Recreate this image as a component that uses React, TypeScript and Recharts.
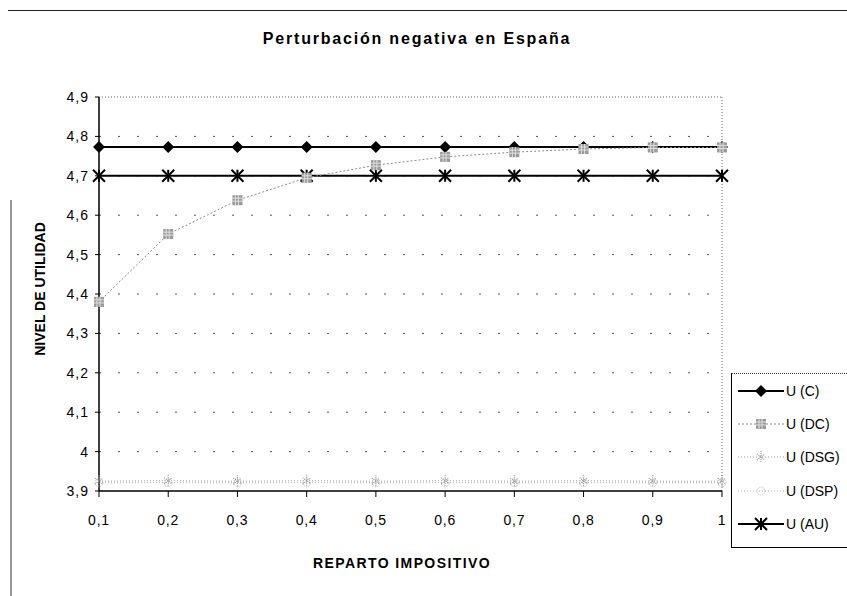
import React from 'react';
import { LineChart, Line, XAxis, YAxis, CartesianGrid, ReferenceLine, Legend } from 'recharts';

const reparto = [0.1, 0.2, 0.3, 0.4, 0.5, 0.6, 0.7, 0.8, 0.9, 1];
const uC = [4.773, 4.773, 4.773, 4.773, 4.773, 4.773, 4.773, 4.773, 4.773, 4.773];
const uDC = [4.38, 4.552, 4.638, 4.695, 4.727, 4.748, 4.76, 4.768, 4.772, 4.772];
const uDSG = [3.925, 3.926, 3.925, 3.926, 3.925, 3.926, 3.925, 3.926, 3.925, 3.925];
const uDSP = [3.921, 3.921, 3.921, 3.921, 3.921, 3.921, 3.921, 3.921, 3.921, 3.921];
const uAU = [4.7, 4.7, 4.7, 4.7, 4.7, 4.7, 4.7, 4.7, 4.7, 4.7];
const yTicks = [3.9, 4, 4.1, 4.2, 4.3, 4.4, 4.5, 4.6, 4.7, 4.8, 4.9];
const seriesNames = ['U (C)', 'U (DC)', 'U (DSG)', 'U (DSP)', 'U (AU)'];

const data = reparto.map((x, i) => ({ x, c: uC[i], dc: uDC[i], dsg: uDSG[i], dsp: uDSP[i], au: uAU[i] }));

const FONT = 'Arial, "Liberation Sans", Helvetica, sans-serif';
const fmt = (v: number) => String(Math.round(v * 10) / 10).replace('.', ',');

const Diamond = (p: any) => {
  const { cx, cy } = p;
  if (cx == null || cy == null) return null;
  return <path key={p.key} d={`M${cx},${cy - 6}L${cx + 6},${cy}L${cx},${cy + 6}L${cx - 6},${cy}Z`} fill="#000" />;
};
const Asterisk = (p: any) => {
  const { cx, cy } = p;
  if (cx == null || cy == null) return null;
  const r = 6;
  return (
    <g key={p.key} stroke="#000" strokeWidth={2}>
      <line x1={cx - r} y1={cy - r} x2={cx + r} y2={cy + r} />
      <line x1={cx - r} y1={cy + r} x2={cx + r} y2={cy - r} />
      <line x1={cx} y1={cy - r} x2={cx} y2={cy + r} />
    </g>
  );
};
const HatchSquare = (p: any) => {
  const { cx, cy } = p;
  if (cx == null || cy == null) return null;
  return (
    <g key={p.key}>
      <rect x={cx - 5} y={cy - 5} width={10} height={10} fill="#9a9a9a" />
      <path d={`M${cx - 5},${cy - 2}H${cx + 5}M${cx - 5},${cy + 1}H${cx + 5}M${cx - 2},${cy - 5}V${cy + 5}M${cx + 1},${cy - 5}V${cy + 5}`} stroke="#e0e0e0" strokeWidth={1} />
    </g>
  );
};
const GrayStar = (p: any) => {
  const { cx, cy } = p;
  if (cx == null || cy == null) return null;
  return (
    <g key={p.key} stroke="#9a9a9a" strokeWidth={1.2} strokeDasharray="1 1">
      <line x1={cx} y1={cy - 6} x2={cx} y2={cy + 6} />
      <line x1={cx - 4} y1={cy - 3} x2={cx + 4} y2={cy + 3} />
      <line x1={cx - 4} y1={cy + 3} x2={cx + 4} y2={cy - 3} />
    </g>
  );
};
const LightMark = (p: any) => {
  const { cx, cy } = p;
  if (cx == null || cy == null) return null;
  return (
    <g key={p.key} stroke="#b8b8b8" strokeWidth={1} strokeDasharray="1 1" fill="none">
      <circle cx={cx} cy={cy} r={4} />
    </g>
  );
};

const legendDefs = [
  { name: seriesNames[0], stroke: '#000', width: 2, dash: undefined, Mark: Diamond },
  { name: seriesNames[1], stroke: '#8a8a8a', width: 1, dash: '2 2', Mark: HatchSquare },
  { name: seriesNames[2], stroke: '#9a9a9a', width: 1, dash: '1 2', Mark: GrayStar },
  { name: seriesNames[3], stroke: '#b0b0b0', width: 1, dash: '1 2', Mark: LightMark },
  { name: seriesNames[4], stroke: '#000', width: 2, dash: undefined, Mark: Asterisk },
];

const LegendBox = () => (
  <div style={{ width: 118, height: 175, borderLeft: '1.5px solid #000', borderTop: '1px dotted #333', borderBottom: '1.5px solid #000', boxSizing: 'border-box', position: 'relative', background: '#fff' }}>
    {legendDefs.map((d, i) => (
      <div key={d.name} style={{ position: 'absolute', left: 6, top: 6 + i * 33.2, height: 22, display: 'flex', alignItems: 'center' }}>
        <svg width={46} height={22}>
          <line x1={0} y1={11} x2={46} y2={11} stroke={d.stroke} strokeWidth={d.width} strokeDasharray={d.dash} />
          <d.Mark cx={23} cy={11} />
        </svg>
        <span style={{ fontFamily: FONT, fontSize: 14, color: '#000', marginLeft: 2, whiteSpace: 'nowrap' }}>{d.name}</span>
      </div>
    ))}
  </div>
);

export default function App() {
  return (
    <div style={{ position: 'absolute', left: 0, top: 0, width: 847, height: 596, background: '#fff', overflow: 'hidden', fontFamily: FONT }}>
      <div style={{ position: 'absolute', left: 8, top: 10, width: 839, height: 0, borderTop: '1.5px solid #222' }} />
      <div style={{ position: 'absolute', left: 10, top: 200, width: 0, height: 396, borderLeft: '2px solid #999' }} />
      <div style={{ position: 'absolute', left: 0, top: 30, width: 834, textAlign: 'center', fontSize: 16, fontWeight: 'bold', letterSpacing: 1.8, color: '#000' }}>
        Perturbación negativa en España
      </div>
      <div style={{ position: 'absolute', left: 40, top: 289, transform: 'translate(-50%, -50%) rotate(-90deg)', fontSize: 14, fontWeight: 'bold', whiteSpace: 'nowrap', letterSpacing: 0, color: '#000' }}>
        NIVEL DE UTILIDAD
      </div>
      <div style={{ position: 'absolute', left: 402, top: 563, transform: 'translate(-50%, -50%)', fontSize: 14, fontWeight: 'bold', whiteSpace: 'nowrap', letterSpacing: 1.4, color: '#000' }}>
        REPARTO IMPOSITIVO
      </div>
      <LineChart width={847} height={596} data={data} margin={{ top: 97, right: 125, left: 39, bottom: 75 }} style={{ position: 'absolute', left: 0, top: 0 }}>
        <CartesianGrid horizontal vertical={false} stroke="#555" strokeDasharray="2 17" horizontalValues={[4, 4.1, 4.2, 4.3, 4.4, 4.5, 4.6, 4.7, 4.8]} />
        <ReferenceLine y={4.9} stroke="#666" strokeDasharray="1 2" />
        <ReferenceLine x={1} stroke="#666" strokeDasharray="1 2" />
        <XAxis dataKey="x" type="number" domain={[0.1, 1]} ticks={reparto} tickFormatter={fmt} axisLine={{ stroke: '#000', strokeWidth: 1.5 }} tickLine={{ stroke: '#000' }} tickSize={6} tickMargin={18} height={30} tick={{ fill: '#000', fontSize: 14, fontFamily: FONT, letterSpacing: 0.8 }} interval={0} />
        <YAxis type="number" domain={[3.9, 4.9]} ticks={yTicks} tickFormatter={fmt} axisLine={{ stroke: '#000', strokeWidth: 1.5 }} tickLine={{ stroke: '#000' }} tickSize={4} tickMargin={6} width={60} tick={{ fill: '#000', fontSize: 14, fontFamily: FONT, letterSpacing: 1 }} interval={0} allowDataOverflow />
        <Line dataKey="dsp" name={seriesNames[3]} stroke="#b0b0b0" strokeWidth={1} strokeDasharray="1 2" dot={LightMark} isAnimationActive={false} />
        <Line dataKey="dsg" name={seriesNames[2]} stroke="#9a9a9a" strokeWidth={1} strokeDasharray="1 2" dot={GrayStar} isAnimationActive={false} />
        <Line dataKey="c" name={seriesNames[0]} stroke="#000" strokeWidth={2} dot={Diamond} isAnimationActive={false} />
        <Line dataKey="au" name={seriesNames[4]} stroke="#000" strokeWidth={2} dot={Asterisk} isAnimationActive={false} />
        <Line dataKey="dc" name={seriesNames[1]} stroke="#8a8a8a" strokeWidth={1} strokeDasharray="2 2" dot={HatchSquare} isAnimationActive={false} />
        <Legend layout="vertical" align="center" verticalAlign="middle" content={() => <LegendBox />} wrapperStyle={{ position: 'absolute', left: 731, top: 373, width: 118, height: 175 }} />
      </LineChart>
    </div>
  );
}
